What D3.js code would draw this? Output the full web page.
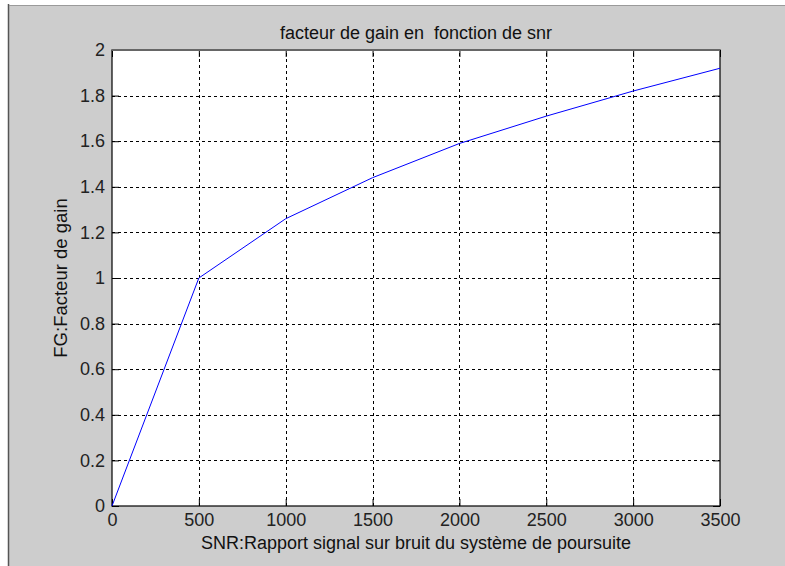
<!DOCTYPE html>
<html>
<head>
<meta charset="utf-8">
<script src="https://cdn.jsdelivr.net/npm/d3@7"></script>
<style>
  html, body { margin: 0; padding: 0; background: #ffffff; }
  text { font-family: "Liberation Sans", Arial, sans-serif; }
</style>
</head>
<body>
<div id="chart"></div>
<script>
// data
const snrValues = [0, 500, 1000, 1500, 2000, 2500, 3000, 3500];
const gainValues = [0, 1.0, 1.26, 1.44, 1.59, 1.71, 1.82, 1.92];
const xTickValues = [0, 500, 1000, 1500, 2000, 2500, 3000, 3500];
const yTickValues = [0, 0.2, 0.4, 0.6, 0.8, 1, 1.2, 1.4, 1.6, 1.8, 2];

const titleText = 'facteur de gain en  fonction de snr';
const xLabelText = 'SNR:Rapport signal sur bruit du système de poursuite';
const yLabelText = 'FG:Facteur de gain';

const width = 785;
const height = 566;
const margin = {left: 112, right: 65, top: 50, bottom: 60};

const svg = d3.select('#chart').append('svg')
    .attr('width', width)
    .attr('height', height);

// figure background
svg.append('rect')
    .attr('x', 9).attr('y', 5)
    .attr('width', width - 9).attr('height', height - 5)
    .attr('fill', '#cdcdcd');
svg.append('line')
    .attr('x1', 8.5).attr('x2', 8.5).attr('y1', 4).attr('y2', height)
    .attr('stroke', '#555').attr('stroke-width', 1.5);
svg.append('line')
    .attr('x1', 9).attr('x2', width).attr('y1', 5.5).attr('y2', 5.5)
    .attr('stroke', '#9a9a9a').attr('stroke-width', 1);

const x = d3.scaleLinear()
    .domain([0, 3500])
    .range([margin.left, width - margin.right]);

const y = d3.scaleLinear()
    .domain([0, 2])
    .range([height - margin.bottom, margin.top]);

// plot area
svg.append('rect')
    .attr('x', x(0)).attr('y', y(2))
    .attr('width', x(3500) - x(0)).attr('height', y(0) - y(2))
    .attr('fill', '#ffffff');

// grid
const grid = svg.append('g').attr('class', 'grid');
grid.selectAll('line.vg')
    .data(xTickValues.slice(1, -1))
    .enter().append('line')
    .attr('class', 'vg')
    .attr('x1', d => Math.round(x(d)) + 0.5).attr('x2', d => Math.round(x(d)) + 0.5)
    .attr('y1', y(0)).attr('y2', y(2))
    .attr('stroke', '#000').attr('stroke-width', 1)
    .attr('stroke-dasharray', '3,3');
grid.selectAll('line.hg')
    .data(yTickValues.slice(1, -1))
    .enter().append('line')
    .attr('class', 'hg')
    .attr('y1', d => Math.round(y(d)) + 0.5).attr('y2', d => Math.round(y(d)) + 0.5)
    .attr('x1', x(0)).attr('x2', x(3500))
    .attr('stroke', '#000').attr('stroke-width', 1)
    .attr('stroke-dasharray', '3,3');

// axes, ticks pointing inward
const xAxis = d3.axisBottom(x)
    .tickValues(xTickValues)
    .tickSize(-7)
    .tickPadding(7)
    .tickFormat(d3.format('d'));
const yAxis = d3.axisLeft(y)
    .tickValues(yTickValues)
    .tickSize(-7)
    .tickPadding(7)
    .tickFormat(d => d3.format('~g')(d));

const gx = svg.append('g')
    .attr('transform', `translate(0,${y(0)})`)
    .call(xAxis);
const gy = svg.append('g')
    .attr('transform', `translate(${x(0)},0)`)
    .call(yAxis);

[gx, gy].forEach(g => {
  g.select('.domain').remove();
  g.selectAll('.tick line').attr('stroke', '#000');
  g.selectAll('.tick text')
      .attr('fill', '#222')
      .style('font-size', '18px')
      .style('font-family', '"Liberation Sans", Arial, sans-serif');
});

// top/right ticks mirrored like matlab
svg.append('g')
    .attr('transform', `translate(0,${y(2)})`)
    .call(d3.axisTop(x).tickValues(xTickValues).tickSize(-7).tickFormat(''))
    .call(g => g.select('.domain').remove());
svg.append('g')
    .attr('transform', `translate(${x(3500)},0)`)
    .call(d3.axisRight(y).tickValues(yTickValues).tickSize(-7).tickFormat(''))
    .call(g => g.select('.domain').remove());

// box
svg.append('rect')
    .attr('x', x(0)).attr('y', y(2))
    .attr('width', x(3500) - x(0)).attr('height', y(0) - y(2))
    .attr('fill', 'none')
    .attr('stroke', '#000').attr('stroke-width', 1.2);
svg.append('line')
    .attr('x1', x(0)).attr('x2', x(3500)).attr('y1', y(2)).attr('y2', y(2))
    .attr('stroke', '#666').attr('stroke-width', 2);

// data line
const line = d3.line()
    .x((d, i) => x(snrValues[i]))
    .y(d => y(d));

svg.append('path')
    .datum(gainValues)
    .attr('d', line)
    .attr('fill', 'none')
    .attr('stroke', '#0000ff')
    .attr('stroke-width', 1);

// labels
svg.append('text')
    .attr('x', (x(0) + x(3500)) / 2)
    .attr('y', 39)
    .attr('text-anchor', 'middle')
    .style('font-size', '18px')
    .style('white-space', 'pre')
    .attr('fill', '#111')
    .text(titleText);

svg.append('text')
    .attr('x', (x(0) + x(3500)) / 2)
    .attr('y', 549)
    .attr('text-anchor', 'middle')
    .style('font-size', '18px')
    .attr('fill', '#111')
    .text(xLabelText);

svg.append('text')
    .attr('transform', `translate(67,${(y(0) + y(2)) / 2}) rotate(-90)`)
    .attr('text-anchor', 'middle')
    .style('font-size', '18.5px')
    .attr('fill', '#111')
    .text(yLabelText);
</script>
</body>
</html>
